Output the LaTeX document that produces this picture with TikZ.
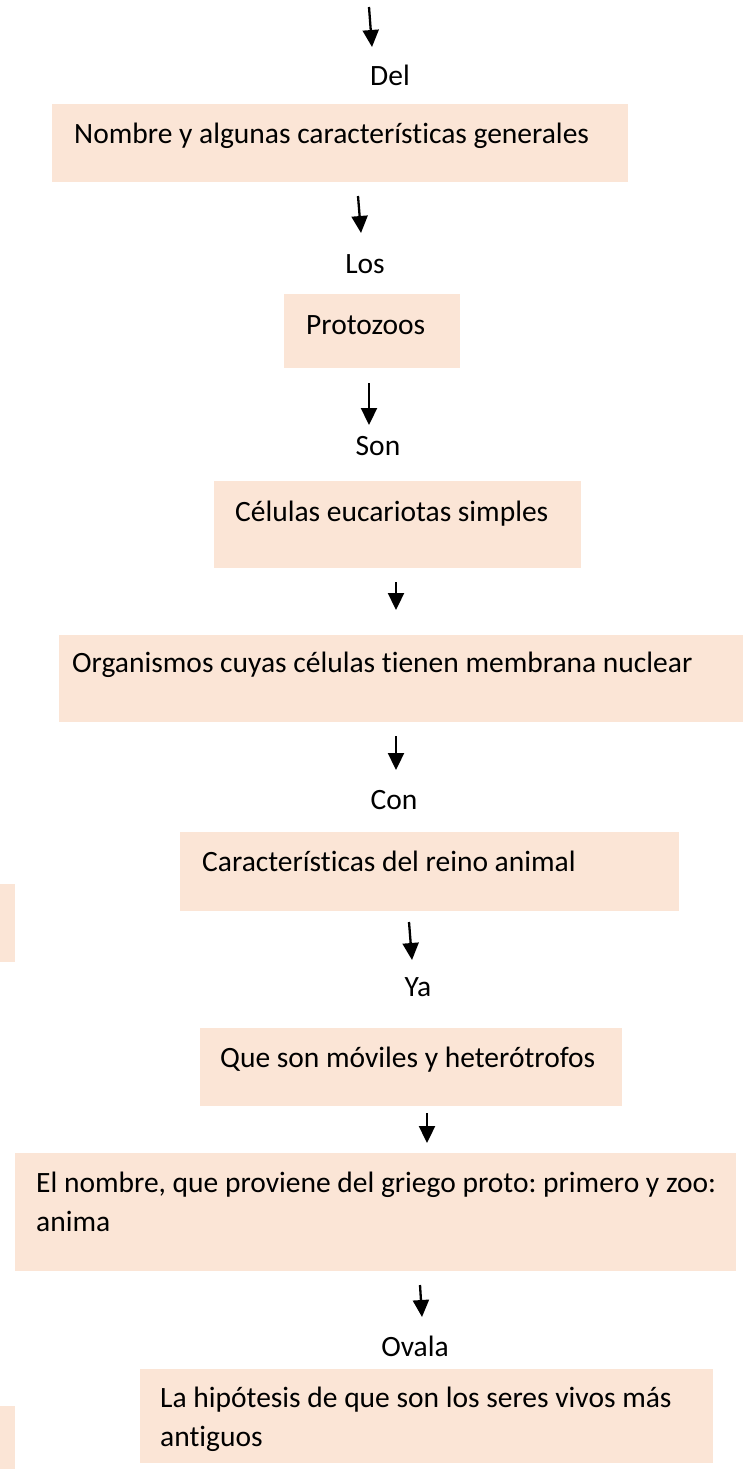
\documentclass[tikz,border=0pt]{standalone}
\usepackage{fontspec}
\setmainfont{Carlito}[Ligatures=NoCommon]
\frenchspacing
\usetikzlibrary{arrows.meta, positioning}
\definecolor{durazno}{HTML}{FBE5D6}
\tikzset{
  caja/.style={fill=durazno, draw=none, anchor=north west, inner sep=0pt},
  texto/.style={anchor=base west, inner sep=0pt, align=left, font=\fontsize{29.5}{39}\selectfont},
  enlace/.style={anchor=base, inner sep=0pt, font=\fontsize{29.5}{39}\selectfont},
  flecha/.style={line width=2.3pt, -{Triangle[width=16pt,length=17pt]}}
}

\begin{document}
\begin{tikzpicture}[x=1pt,y=-1pt]
\useasboundingbox (0,0) rectangle (751,1469);
% cajas de color
\node[caja, minimum width=576pt, minimum height=78pt] (nombre) at (52,104) {};
\node[caja, minimum width=176pt, minimum height=74pt] (protozoos) at (284,294) {};
\node[caja, minimum width=367pt, minimum height=87pt] (celulas) at (214,481) {};
\node[caja, minimum width=684pt, minimum height=87pt] (organismos) at (59,635) {};
\node[caja, minimum width=499pt, minimum height=79pt] (reino) at (180,832) {};
\node[caja, minimum width=422pt, minimum height=78pt] (moviles) at (200,1028) {};
\node[caja, minimum width=721pt, minimum height=118pt] (griego) at (15,1153) {};
\node[caja, minimum width=573pt, minimum height=94pt] (hipotesis) at (140,1369) {};
\node[caja, minimum width=15pt, minimum height=78pt] (resto1) at (0,884) {};
\node[caja, minimum width=15pt, minimum height=63pt] (resto2) at (0,1406) {};
% textos (las de dos lineas van por la base de la ultima)
\node[texto] (tnombre) at (74,143) {Nombre y algunas características generales};
\node[texto] (tprotozoos) at (306,334) {Protozoos};
\node[texto] (tcelulas) at (235,521) {Células eucariotas simples};
\node[texto] (torganismos) at (72,672) {Organismos cuyas células tienen membrana nuclear};
\node[texto] (treino) at (202,871) {Características del reino animal};
\node[texto] (tmoviles) at (220,1067) {Que son móviles y heterótrofos};
\node[texto] (tgriego) at (36,1231) {El nombre, que proviene del griego proto: primero y zoo:\\anima};
\node[texto] (thipotesis) at (160,1446) {La hipótesis de que son los seres vivos más\\antiguos};
% palabras de enlace
\node[enlace] (del) at (390,86) {Del};
\node[enlace] (los) at (365,273) {Los};
\node[enlace] (son) at (378,455) {Son};
\node[enlace] (con) at (394,809) {Con};
\node[enlace] (ya) at (418,996) {Ya};
\node[enlace] (ovala) at (415,1356) {Ovala};
% flechas
\foreach \n/\xa/\ya/\xb/\yb in {0/369/7/372/47, 1/358/196/361/233, 2/369/383/369/425,
    3/396/582/396/610, 4/396/736/396/770, 5/409/922/412/960, 6/427/1113/427/1143,
    7/420/1285/422/1317}{
  \coordinate (f\n a) at (\xa,\ya);
  \coordinate (f\n b) at (\xb,\yb);
  \draw[flecha] (f\n a) -- (f\n b);
}
\end{tikzpicture}
\end{document}
